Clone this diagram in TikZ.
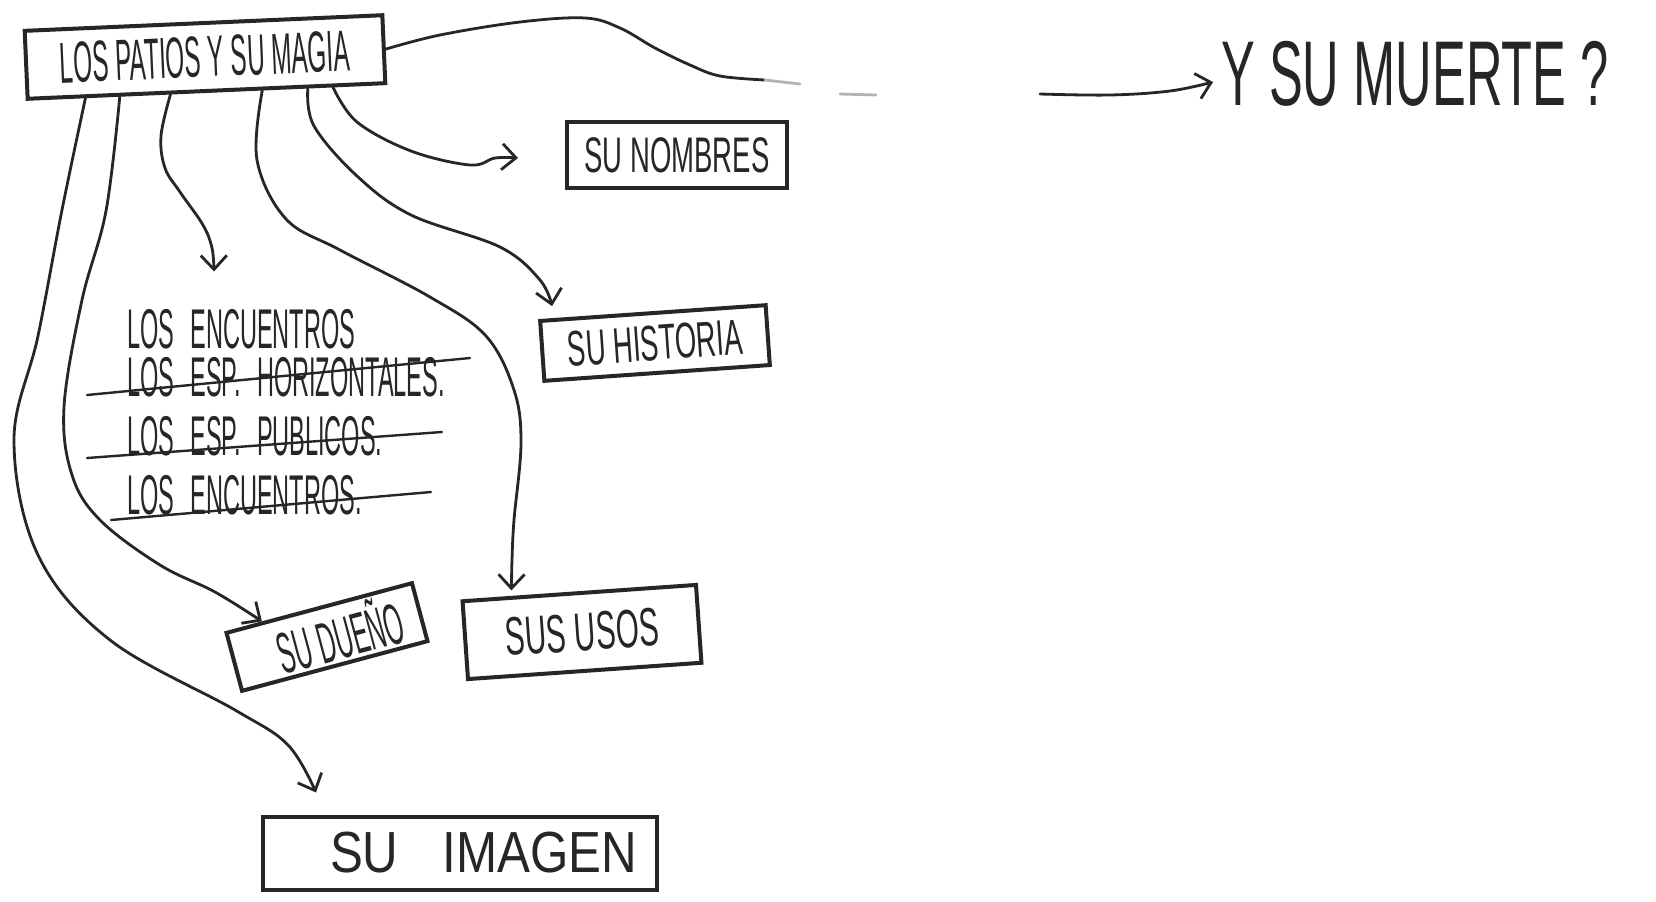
\documentclass[tikz,border=0pt]{standalone}
\usepackage{fontspec}
\setmainfont{Liberation Sans}
\newfontfamily\hand{Liberation Sans}[FakeStretch=0.42]
\newfontfamily\handw{Liberation Sans}[FakeStretch=0.55]
\newfontfamily\handwide{Liberation Sans}[FakeStretch=0.85]
\newcommand\listfont{\hand\fontsize{28pt}{30pt}\selectfont\spaceskip 8pt\relax}
\usetikzlibrary{arrows.meta,calc}
\colorlet{ink}{black!85}
\tikzset{
  box/.style={draw=ink, line width=2pt, inner sep=0pt, text=ink},
  item/.style={anchor=base west, inner sep=0pt, text=ink, font=\listfont},
  link/.style={draw=ink, line width=1.4pt, line cap=round, line join=round,
    -{Straight Barb[length=7pt,width=13pt]}},
  wire/.style={draw=ink, line width=1.4pt, line cap=round},
  strike/.style={draw=ink, line width=1.2pt, line cap=round},
}
\begin{document}
\begin{tikzpicture}[x=0.5pt,y=-0.5pt]
  % paper
  \fill[white] (0,0) rectangle (1656,901);
  % main box
  \node[box, rotate=2.5, minimum width=179pt, minimum height=34pt,
    font=\hand\fontsize{29pt}{31pt}\selectfont] (main) at (205,57) {LOS PATIOS Y SU MAGIA};
  % question on the right
  \node[inner sep=2pt, text=ink, font=\handw\fontsize{46pt}{48pt}\selectfont] (muerte) at (1415,74) {Y SU MUERTE ?};
  % boxes
  \node[box, minimum width=110pt, minimum height=33pt,
    font=\handw\fontsize{25pt}{27pt}\selectfont] (nom) at (677,155) {SU NOMBRES};
  \node[box, rotate=4, minimum width=113pt, minimum height=30pt,
    font=\handw\fontsize{25pt}{27pt}\selectfont] (hist) at (655,343) {SU HISTORIA};
  \node[box, rotate=15, minimum width=96pt, minimum height=30pt,
    font=\hand\fontsize{29pt}{31pt}\selectfont] (dueno) at (327,637) {\hspace*{13pt}SU DUEÑO};
  \node[box, rotate=4, minimum width=117pt, minimum height=39pt,
    font=\handw\fontsize{27pt}{29pt}\selectfont] (usos) at (582,632) {SUS USOS};
  \node[box, minimum width=197pt, minimum height=36.5pt,
    font=\handwide\fontsize{29pt}{31pt}\selectfont] (img) at (460,853)
    {\makebox[0pt][l]{\hspace{-65pt}SU\hspace{22pt}IMAGEN}};
  % list
  \node[item] (enc1) at (127,348) {LOS ENCUENTROS};
  \node[item] (enc2) at (127,396) {LOS ESP. HORIZONTALES.};
  \node[item] (enc3) at (127,455) {LOS ESP. PUBLICOS.};
  \node[item] (enc4) at (127,514) {LOS ENCUENTROS.};
  % crossed out
  \draw[strike] (87,395) -- (470,358);
  \draw[strike] (87,458) -- (442,432);
  \draw[strike] (111,520) -- (431,492);
  % start points under the main box
  \coordinate (s1) at ($(main.south west)!0.165!(main.south east)$);
  \coordinate (s2) at ($(main.south west)!0.26!(main.south east)$);
  \coordinate (s3) at ($(main.south west)!0.40!(main.south east)$);
  \coordinate (s4) at ($(main.south west)!0.654!(main.south east)$);
  \coordinate (s5) at ($(main.south west)!0.78!(main.south east)$);
  \coordinate (s6) at ($(main.south west)!0.85!(main.south east)$);
  % arrow ends
  \coordinate (t1) at ($(img.north west)+(55,-22)$);
  \coordinate (t2) at ($(dueno.north west)!0.4!(dueno.north)$);
  \coordinate (t3) at ($(enc1.north west)+(87,-37)$);
  \coordinate (t4) at ($(usos.north west)+(51,-9)$);
  \coordinate (t5) at ($(hist.north west)+(14,-13)$);
  \coordinate (t6) at ($(nom.west)+(-47,3)$);
  \coordinate (t7) at ($(muerte.west)+(-4,8)$);
  % arrows
  \draw[link] plot[smooth, tension=0.6] coordinates {(s1) (62,210) (38,336) (14,440) (38,555) (110,640) (235,710) (288,745) (t1)};
  \draw[link] plot[smooth, tension=0.6] coordinates {(s2) (106,211) (82,300) (64,407) (72,475) (100,520) (160,565) (215,592) (t2)};
  \draw[link] plot[smooth, tension=0.6] coordinates {(s3) (161,136) (165,168) (180,192) (203,225) (212,248) (t3)};
  \draw[link] plot[smooth, tension=0.6] coordinates {(s4) (257,160) (286,219) (340,250) (430,297) (486,336) (514,390) (521,443) (514,520) (512,560) (t4)};
  \draw[link] plot[smooth, tension=0.6] coordinates {(s5) (314,126) (357,176) (411,215) (500,247) (540,280) (t5)};
  \draw[link] plot[smooth, tension=0.6] coordinates {(s6) (357,122) (411,151) (470,165) (495,158) (t6)};
  % long line to the question, broken in the middle
  \draw[wire] plot[smooth, tension=0.6] coordinates {(main.east) (440,35) (520,22) (585,18) (620,28) (655,48) (690,65) (720,76) (765,80)};
  \draw[wire, ink!35] (765,80) -- (800,84);
  \draw[wire, ink!35] (840,94) -- (876,95);
  \coordinate (m0) at (1040,94);
  \draw[link] plot[smooth, tension=0.6] coordinates {(m0) (1110,95) (1170,91) (t7)};
\end{tikzpicture}
\end{document}
